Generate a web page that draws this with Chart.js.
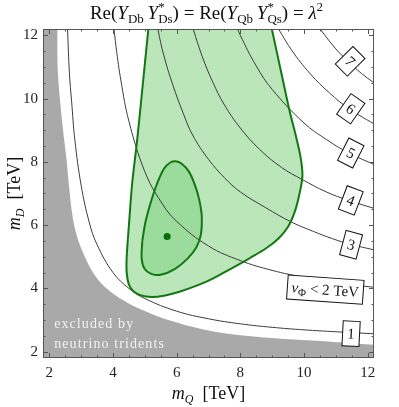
<!DOCTYPE html>
<html><head><meta charset="utf-8">
<script src="https://cdn.jsdelivr.net/npm/chart.js@4.4.1/dist/chart.umd.min.js"></script>
<style>html,body{margin:0;padding:0;background:#fff;}canvas{display:block;}</style>
</head><body>
<canvas id="c" width="399" height="407"></canvas>
<script>
// ---- data (in TeV) ----
const xTickValues = [2, 4, 6, 8, 10, 12];
const yTickValues = [2, 4, 6, 8, 10, 12];
const minorTickValues = [2.5, 3, 3.5, 4.5, 5, 5.5, 6.5, 7, 7.5, 8.5, 9, 9.5, 10.5, 11, 11.5];

// contours of v_Phi (TeV) in the (m_Q, m_D) plane
const contour1 = [[2.55,12.5],[2.57,12.2],[2.63,10.8],[2.7,9.9],[2.8,8.7],[3.0,7.25],[3.25,6.1],[3.5,5.38],[4.0,4.5],[4.5,4.0],[5.0,3.68],[6.0,3.28],[7.0,3.04],[8.0,2.88],[9.0,2.77],[10.0,2.69],[11.0,2.63],[12.5,2.55]];
const contour2 = [[4.0,12.5],[4.1,11.6],[4.25,10.56],[4.5,9.28],[5.0,7.69],[5.5,6.75],[6.0,6.12],[7.0,5.34],[8.0,4.88],[9.0,4.57],[10.0,4.35],[11.0,4.18],[12.5,4.0]];
const contour3 = [[5.38,12.5],[5.41,12.2],[5.6,11.35],[5.88,10.43],[6.2,9.55],[6.5,8.85],[7.0,8.08],[7.5,7.5],[8.0,7.05],[8.8,6.55],[9.6,6.1],[10.3,5.8],[10.9,5.57],[11.44,5.4],[12.5,5.15]];
const contour4 = [[6.44,12.5],[6.52,12.2],[6.8,11.34],[7.13,10.53],[7.5,9.8],[8.0,9.07],[8.6,8.4],[9.3,7.82],[9.95,7.44],[10.7,7.05],[11.41,6.78],[12.5,6.44]];
const contour5 = [[7.79,12.5],[8.0,12.0],[8.5,11.03],[9.0,10.29],[10.0,9.23],[10.7,8.71],[11.41,8.28],[12.5,7.79]];
const contour6 = [[9.03,12.5],[9.6,11.55],[10.2,10.78],[10.8,10.18],[11.43,9.67],[12.5,9.03]];
const contour7 = [[10.28,12.5],[11.0,11.57],[11.41,11.16],[11.8,10.8],[12.5,10.28]];

// excluded by neutrino trident (boundary of grey region, closed outside the frame)
const excludedRegion = [[1.0,13.0],[2.24,13.0],[2.25,12.2],[2.26,11.0],[2.33,10.0],[2.43,9.0],[2.54,8.07],[2.63,7.1],[2.74,6.2],[2.88,5.6],[3.07,5.1],[3.3,4.62],[3.55,4.25],[3.82,3.98],[4.12,3.75],[4.45,3.55],[4.85,3.35],[5.37,3.13],[5.9,2.95],[6.42,2.8],[7.2,2.63],[8.0,2.52],[9.0,2.43],[10.1,2.36],[11.2,2.29],[12.2,2.22],[13.0,2.18],[13.0,1.0],[1.0,1.0],[1.0,13.0]];

// allowed regions (outer: light green, inner: darker green)
const outerRegion = [[5.15,12.6],[5.11,12.2],[4.94,10.5],[4.76,8.7],[4.6,7.3],[4.5,6.0],[4.43,5.0],[4.43,4.5],[4.5,4.12],[4.65,3.9],[4.88,3.78],[5.2,3.73],[5.6,3.77],[6.11,3.9],[6.95,4.22],[7.7,4.62],[8.3,4.96],[8.8,5.26],[9.2,5.58],[9.5,5.95],[9.72,6.45],[9.86,7.0],[9.95,7.55],[9.9,8.1],[9.75,8.8],[9.55,9.6],[9.28,10.85],[9.0,12.15],[8.9,12.6],[5.15,12.6]];
const innerRegion = [[4.92,5.5],[5.02,6.1],[5.18,6.7],[5.38,7.3],[5.6,7.78],[5.8,7.98],[5.97,8.02],[6.15,7.95],[6.38,7.7],[6.58,7.25],[6.72,6.75],[6.79,6.25],[6.76,5.7],[6.62,5.3],[6.35,4.95],[5.95,4.62],[5.5,4.43],[5.2,4.46],[4.99,4.62],[4.9,4.95],[4.92,5.5]];
const bestFit = [[5.7,5.64]];

// contour labels (anchor in data coordinates)
const contourLabels = [
  {id:'7', x:11.45, y:11.18},
  {id:'6', x:11.47, y:9.68},
  {id:'5', x:11.47, y:8.28},
  {id:'4', x:11.47, y:6.78},
  {id:'3', x:11.48, y:5.38},
  {id:'2', x:10.67, y:3.96},
  {id:'1', x:11.48, y:2.57}
];
const excludedText = [{text:'excluded by', x:2.15, y:2.75}, {text:'neutrino tridents', x:2.15, y:2.12}];

// ---- styles ----
const SERIF = '"Liberation Serif", "DejaVu Serif", serif';
const labelStyle = {
  '7': {angle:45, w:17, h:25}, '6': {angle:35, w:17, h:25}, '5': {angle:27, w:17, h:25},
  '4': {angle:21, w:17, h:25}, '3': {angle:15, w:17, h:25}, '2': {angle:4, w:76, h:24},
  '1': {angle:3, w:17, h:25}
};
const toXY = arr => arr.map(([x, y]) => ({x, y}));
const CLEAR = 'rgba(0,0,0,0)';

function runsWidth(ctx, runs) {
  let w = 0;
  for (let i = 0; i < runs.length; i++) {
    const r = runs[i];
    ctx.font = r.f;
    const rw = ctx.measureText(r.t).width;
    if (r.stack) {
      const n = runs[i + 1]; ctx.font = n.f;
      const nw = ctx.measureText(n.t).width;
      w += Math.max(rw, nw); i++;
    } else w += rw;
  }
  return w;
}
function drawRuns(ctx, runs, cx, by) {
  let x = cx - runsWidth(ctx, runs) / 2;
  ctx.textAlign = 'left'; ctx.textBaseline = 'alphabetic';
  for (let i = 0; i < runs.length; i++) {
    const r = runs[i];
    ctx.font = r.f;
    ctx.fillText(r.t, x, by + (r.dy || 0));
    let adv = ctx.measureText(r.t).width;
    if (r.stack) {
      const n = runs[i + 1]; ctx.font = n.f;
      ctx.fillText(n.t, x, by + (n.dy || 0));
      adv = Math.max(adv, ctx.measureText(n.t).width); i++;
    }
    x += adv;
  }
}
const F = (style, size) => `${style} ${size}px ${SERIF}`;

const titleRuns = [
  {t:'Re(', f:F('normal',19)}, {t:'Y', f:F('italic',19)}, {t:'Db', f:F('normal',13), dy:4}, {t:'\u2009', f:F('normal',19)},
  {t:'Y', f:F('italic',19)}, {t:'*', f:F('normal',13), dy:-8, stack:true}, {t:'Ds', f:F('normal',13), dy:4},
  {t:') = Re(', f:F('normal',19)}, {t:'Y', f:F('italic',19)}, {t:'Qb', f:F('normal',13), dy:4}, {t:'\u2009', f:F('normal',19)},
  {t:'Y', f:F('italic',19)}, {t:'*', f:F('normal',13), dy:-8, stack:true}, {t:'Qs', f:F('normal',13), dy:4},
  {t:') = ', f:F('normal',19)}, {t:'\u03BB', f:F('italic',19)}, {t:'2', f:F('normal',13), dy:-8}
];
const xTitleRuns = [{t:'m', f:F('italic',18)}, {t:'Q', f:F('italic',12), dy:4}, {t:'  [TeV]', f:F('normal',18)}];
const yTitleRuns = [{t:'m', f:F('italic',18)}, {t:'D', f:F('italic',12), dy:4}, {t:'  [TeV]', f:F('normal',18)}];
const vLabelRuns = [{t:'v', f:F('italic',15)}, {t:'\u03A6', f:F('normal',11), dy:3}, {t:' < 2 TeV', f:F('normal',15)}];

const decorations = {
  id: 'decorations',
  afterDatasetsDraw(chart) {
    const {ctx, chartArea: a, scales: {x, y}} = chart;
    ctx.save();
    // excluded text
    ctx.fillStyle = '#f2f2f2';
    ctx.font = F('normal', 14);
    ctx.letterSpacing = '1.1px';
    ctx.textAlign = 'left'; ctx.textBaseline = 'alphabetic';
    excludedText.forEach(e => ctx.fillText(e.text, x.getPixelForValue(e.x), y.getPixelForValue(e.y)));
    ctx.letterSpacing = '0px';
    // contour labels
    contourLabels.forEach(l => {
      const s = labelStyle[l.id];
      ctx.save();
      ctx.translate(x.getPixelForValue(l.x), y.getPixelForValue(l.y));
      ctx.rotate(s.angle * Math.PI / 180);
      ctx.fillStyle = '#fff';
      ctx.fillRect(-s.w / 2, -s.h / 2, s.w, s.h);
      ctx.strokeStyle = '#111'; ctx.lineWidth = 1;
      ctx.strokeRect(-s.w / 2, -s.h / 2, s.w, s.h);
      ctx.fillStyle = '#111';
      if (l.id === '2') drawRuns(ctx, vLabelRuns, 0, 5);
      else drawRuns(ctx, [{t:l.id, f:F('normal',15)}], 0, 5);
      ctx.restore();
    });
    // frame and inward ticks
    ctx.strokeStyle = '#555'; ctx.lineWidth = 1;
    ctx.strokeRect(a.left + 0.5, a.top + 0.5, a.right - a.left - 1, a.bottom - a.top - 1);
    ctx.beginPath();
    const tx = (v, len) => {
      const p = Math.round(x.getPixelForValue(v)) + 0.5;
      ctx.moveTo(p, a.bottom); ctx.lineTo(p, a.bottom - len);
      ctx.moveTo(p, a.top); ctx.lineTo(p, a.top + len);
    };
    const ty = (v, len) => {
      const p = Math.round(y.getPixelForValue(v)) + 0.5;
      ctx.moveTo(a.left, p); ctx.lineTo(a.left + len, p);
      ctx.moveTo(a.right, p); ctx.lineTo(a.right - len, p);
    };
    xTickValues.forEach(v => tx(v, 5)); minorTickValues.forEach(v => tx(v, 2.5));
    yTickValues.forEach(v => ty(v, 5)); minorTickValues.forEach(v => ty(v, 2.5));
    ctx.stroke();
    ctx.restore();
  },
  afterDraw(chart) {
    const {ctx, chartArea: a} = chart;
    const cx = (a.left + a.right) / 2, cy = (a.top + a.bottom) / 2;
    ctx.save();
    ctx.fillStyle = '#111';
    drawRuns(ctx, titleRuns, cx - 2, 19);
    drawRuns(ctx, xTitleRuns, cx, a.bottom + 41);
    ctx.translate(20, cy); ctx.rotate(-Math.PI / 2);
    drawRuns(ctx, yTitleRuns, 0, 0);
    ctx.restore();
  }
};

const region = (pts, color, order) => ({data: toXY(pts), showLine: true, pointRadius: 0, tension: 0.35,
  fill: 'shape', backgroundColor: color, borderColor: CLEAR, borderWidth: 0, order});
const curve = (pts, color, width, order, tension) => ({data: toXY(pts), showLine: true, pointRadius: 0,
  tension, fill: false, borderColor: color, borderWidth: width, order});

const datasets = [
  region(excludedRegion, '#a9a9a9', 20),
  region(outerRegion, '#bae6ba', 19),
  region(innerRegion, '#9bdb9b', 18),
  ...[contour1, contour2, contour3, contour4, contour5, contour6, contour7].map(c => curve(c, '#3c3c3c', 1, 10, 0.4)),
  curve(outerRegion, '#137813', 2, 5, 0.35),
  curve(innerRegion, '#137813', 2, 4, 0.35),
  {data: toXY(bestFit), pointRadius: 3.5, pointBackgroundColor: '#0b6b0b', pointBorderWidth: 0, showLine: false, order: 1}
];

new Chart(document.getElementById('c'), {
  type: 'scatter',
  data: {datasets},
  options: {
    responsive: false, animation: false, events: [],
    layout: {padding: {top: 29, right: 25, left: 0, bottom: 0}},
    elements: {line: {capBezierPoints: false}},
    plugins: {legend: {display: false}, tooltip: {enabled: false}, title: {display: false}},
    scales: {
      x: {type: 'linear', min: 1.8, max: 12.2,
        grid: {display: false, drawTicks: false}, border: {display: false},
        ticks: {font: {family: SERIF, size: 15}, color: '#222', padding: 6, autoSkip: false, maxRotation: 0},
        afterBuildTicks: s => { s.ticks = xTickValues.map(v => ({value: v})); },
        afterFit: s => { s.height = 49; }},
      y: {type: 'linear', min: 1.8, max: 12.2,
        grid: {display: false, drawTicks: false}, border: {display: false},
        ticks: {font: {family: SERIF, size: 15}, color: '#222', padding: 5, autoSkip: false},
        afterBuildTicks: s => { s.ticks = yTickValues.map(v => ({value: v})); },
        afterFit: s => { s.width = 43; }}
    }
  },
  plugins: [decorations]
});
</script>
</body></html>
